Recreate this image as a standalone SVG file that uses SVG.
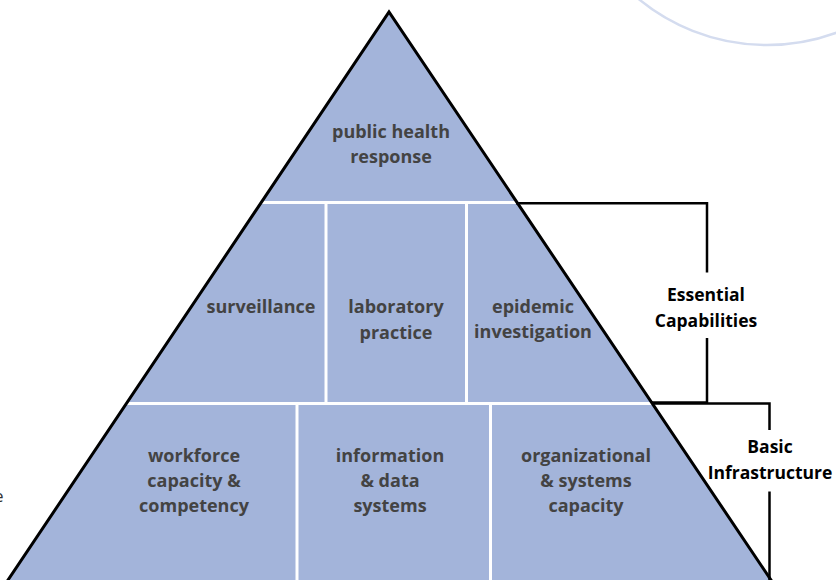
<svg xmlns="http://www.w3.org/2000/svg" width="836" height="580" viewBox="0 0 836 580">
  <style>
    .tier { fill: #a3b4da; }
    .divider { stroke: #ffffff; stroke-width: 3; fill: none; }
    .edge { stroke: #000000; stroke-width: 3; fill: none; stroke-linejoin: miter; }
    .bracket { stroke: #000000; stroke-width: 2.5; fill: none; }
    .label { font-family: "Open Sans", "Noto Sans", sans-serif; font-weight: 700; font-size: 18px; fill: #434343; text-anchor: middle; }
    .side { font-family: "Open Sans", "Noto Sans", sans-serif; font-weight: 700; font-size: 17.5px; fill: #000000; text-anchor: middle; }
  </style>

  <!-- decorative ring in the top-right corner -->
  <circle cx="767" cy="-157" r="202" fill="none" stroke="#d4dcef" stroke-width="2.5"/>

  <!-- letter running off the left margin -->
  <text x="-6" y="502" font-family="Open Sans, sans-serif" font-size="17" fill="#333">e</text>

  <!-- pyramid body -->
  <polygon class="tier" points="389,12 773,583 6,583"/>

  <!-- tier dividers -->
  <g id="dividers">
    <line class="divider" x1="250" y1="202.5" x2="530" y2="202.5"/>
    <line class="divider" x1="120" y1="403.5" x2="660" y2="403.5"/>
    <line class="divider" x1="326" y1="203" x2="326" y2="402"/>
    <line class="divider" x1="466.5" y1="203" x2="466.5" y2="402"/>
    <line class="divider" x1="297" y1="404" x2="297" y2="582"/>
    <line class="divider" x1="490.5" y1="404" x2="490.5" y2="582"/>
  </g>

  <!-- pyramid outline -->
  <polyline class="edge" points="6,583 389,12 773,583"/>

  <g id="response">
    <text class="label" x="391" y="138">public health</text>
    <text class="label" x="391" y="163">response</text>
  </g>

  <g id="surveillance">
    <text class="label" x="261" y="313">surveillance</text>
  </g>
  <g id="laboratory">
    <text class="label" x="396" y="313">laboratory</text>
    <text class="label" x="396" y="339">practice</text>
  </g>
  <g id="epidemic">
    <text class="label" x="533" y="313">epidemic</text>
    <text class="label" x="533" y="338">investigation</text>
  </g>

  <g id="workforce">
    <text class="label" x="194" y="462">workforce</text>
    <text class="label" x="194" y="487">capacity &amp;</text>
    <text class="label" x="194" y="512">competency</text>
  </g>
  <g id="information">
    <text class="label" x="390" y="462">information</text>
    <text class="label" x="390" y="487">&amp; data</text>
    <text class="label" x="390" y="512">systems</text>
  </g>
  <g id="organizational">
    <text class="label" x="586" y="462">organizational</text>
    <text class="label" x="586" y="487">&amp; systems</text>
    <text class="label" x="586" y="512">capacity</text>
  </g>

  <!-- brackets marking the two lower tiers -->
  <g id="connectors">
    <polyline class="bracket" points="516,203.3 707,203.3 707,272.5"/>
    <polyline class="bracket" points="707,338 707,402.5 652,402.5"/>
    <polyline class="bracket" points="652,403.5 769.5,403.5 769.5,430"/>
    <line class="bracket" x1="769.5" y1="491.5" x2="769.5" y2="580"/>
  </g>

  <g id="essential">
    <text class="side" x="706" y="301">Essential</text>
    <text class="side" x="706" y="327">Capabilities</text>
  </g>
  <g id="basic">
    <text class="side" x="770" y="453">Basic</text>
    <text class="side" x="770" y="479">Infrastructure</text>
  </g>
</svg>
